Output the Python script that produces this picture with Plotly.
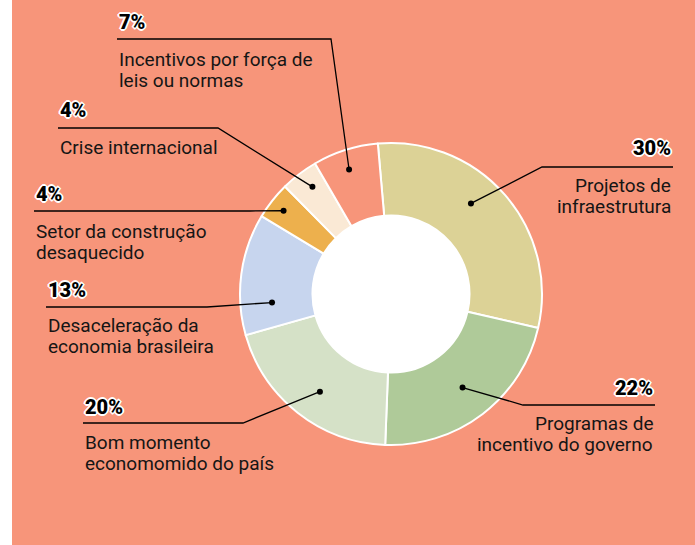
import math
import plotly.graph_objects as go

# ---- data ----
categories = [
    "Projetos de<br>infraestrutura",
    "Programas de<br>incentivo do governo",
    "Bom momento<br>economomido do país",
    "Desaceleração da<br>economia brasileira",
    "Setor da construção<br>desaquecido",
    "Crise internacional",
    "Incentivos por força de<br>leis ou normas",
]
values = [30, 22, 20, 13, 4, 4, 7]
pct_labels = ["30%", "22%", "20%", "13%", "4%", "4%", "7%"]

# ---- style ----
BG = "#F7957A"
colors = ["#DCD296", "#AFCA99", "#D5E1C7", "#C7D5EE", "#EDB04D", "#FAE9D5", "#F7957A"]
W, H = 695, 545
CX, CY, R = 391, 294, 151
HOLE = 0.52
ROT = -5
FONT = "Roboto, 'Noto Sans', sans-serif"
TXT = "#151515"
LINE_H = 21.5
DOT_R = 3
SHADOW = ", ".join(f"{a}px {b}px 0 #ffffff" for a, b in
                   [(1, 1), (-1, 1), (1, -1), (-1, -1), (0, 1), (0, -1), (1, 0), (-1, 0),
                    (2, 0), (-2, 0), (0, 2), (0, -2)])

# label layout: side, text x, pct y, leader y, elbow x, first label line centre y,
#               anchor position within slice (0..1), anchor radius (fraction of R)
label_layout = [
    ("right", 673, 148, 167, 542, 185, 0.43, 0.80),
    ("right", 655, 388, 405, 523, 423, 0.50, 0.78),
    ("left", 83, 407, 423, 243, 442, 0.47, 0.80),
    ("left", 46, 290, 307, 207, 325, 0.25, 0.79),
    ("left", 34, 194, 211, 250, 231, 0.47, 0.90),
    ("left", 58, 110, 128, 218, 147, 0.58, 0.88),
    ("left", 117, 22, 39, 331, 59, 0.46, 0.87),
]

fig = go.Figure()
fig.add_trace(go.Pie(
    labels=categories, values=values, sort=False, direction="clockwise",
    rotation=ROT, hole=HOLE,
    marker=dict(colors=colors, line=dict(color="white", width=2)),
    textinfo="none", hoverinfo="skip", showlegend=False,
    domain=dict(x=[(CX - R) / W, (CX + R) / W], y=[1 - (CY + R) / H, 1 - (CY - R) / H]),
))
# invisible trace to keep the cartesian axes alive
fig.add_trace(go.Scatter(x=[0, W], y=[0, H], mode="markers", marker=dict(opacity=0),
                         hoverinfo="skip", showlegend=False))

# anchor dots from slice angles
total = sum(values)
cum = 0
dots = []
for v, lay in zip(values, label_layout):
    frac, rfac = lay[6], lay[7]
    ang = math.radians(ROT + 360 * (cum + v * frac) / total)
    rr = R * rfac
    dots.append((CX + rr * math.sin(ang), CY - rr * math.cos(ang)))
    cum += v

r_in = R * HOLE
shapes = [
    dict(type="rect", xref="x", yref="y", x0=0, x1=12, y0=0, y1=H,
         fillcolor="white", line=dict(width=0), layer="below"),
    dict(type="circle", xref="x", yref="y", x0=CX - r_in, x1=CX + r_in,
         y0=CY - r_in, y1=CY + r_in, fillcolor="white", line=dict(width=0),
         layer="below"),
]
annotations = []
for i, (side, tx, py, ly, ex, lcy, _f, _r) in enumerate(label_layout):
    dx, dy = dots[i]
    shapes.append(dict(type="path", xref="x", yref="y", layer="above",
                       path=f"M {tx},{ly} L {ex},{ly} L {dx:.2f},{dy:.2f}",
                       line=dict(color="black", width=1.3)))
    shapes.append(dict(type="circle", xref="x", yref="y", layer="above",
                       x0=dx - DOT_R, x1=dx + DOT_R, y0=dy - DOT_R, y1=dy + DOT_R,
                       fillcolor="black", line=dict(width=0)))
    anchor = "left" if side == "left" else "right"
    annotations.append(dict(x=tx, y=py, xref="x", yref="y", text=pct_labels[i],
                            showarrow=False, xanchor=anchor, yanchor="middle",
                            font=dict(family=FONT, size=20, color="black", weight=900,
                                      shadow=SHADOW)))
    for j, line in enumerate(categories[i].split("<br>")):
        annotations.append(dict(x=tx, y=lcy + j * LINE_H, xref="x", yref="y", text=line,
                                showarrow=False, xanchor=anchor, yanchor="middle",
                                font=dict(family=FONT, size=19, color=TXT)))

fig.update_layout(
    width=W, height=H, margin=dict(l=0, r=0, t=0, b=0),
    paper_bgcolor=BG, plot_bgcolor="rgba(0,0,0,0)",
    xaxis=dict(range=[0, W], visible=False, fixedrange=True),
    yaxis=dict(range=[H, 0], visible=False, fixedrange=True),
    annotations=annotations,
    shapes=shapes,
)

fig.write_html("out.html", config={"displayModeBar": False},
               post_script="document.body.style.margin='0';")
